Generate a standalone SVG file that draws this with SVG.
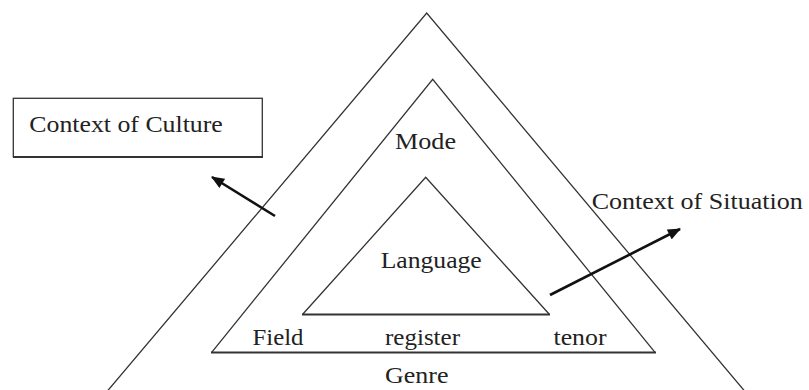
<svg xmlns="http://www.w3.org/2000/svg" width="809" height="390" viewBox="0 0 809 390">
<style>
.ln{fill:none;stroke:#333;stroke-width:1.3;stroke-linejoin:miter}
.base{stroke:#333;stroke-width:2.2;fill:none}
.t{font-family:"Liberation Serif","Times New Roman",serif;font-size:24px;fill:#222}
.arr{stroke:#111;stroke-width:2.6;fill:none;marker-end:url(#ah)}
</style>
<defs>
<marker id="ah" viewBox="0 0 12 10" refX="11" refY="5" markerWidth="14" markerHeight="11" markerUnits="userSpaceOnUse" orient="auto">
<path d="M0,0 L12,5 L0,10 z" fill="#111"/>
</marker>
</defs>
<rect width="809" height="390" fill="#fff"/>
<g id="outer-triangle">
<polyline class="ln" points="106.6,392 426.7,13 745.4,392"/>
</g>
<g id="middle-triangle">
<polyline class="ln" points="211.7,352.3 432.7,79.3 655,352.3"/>
<line class="base" x1="211" y1="352.5" x2="656" y2="352.5"/>
<text class="t" x="395" y="149" textLength="61" lengthAdjust="spacingAndGlyphs">Mode</text>
<text class="t" x="252.5" y="345" textLength="51" lengthAdjust="spacingAndGlyphs">Field</text>
<text class="t" x="385" y="345" textLength="75" lengthAdjust="spacingAndGlyphs">register</text>
<text class="t" x="553.5" y="345" textLength="53" lengthAdjust="spacingAndGlyphs">tenor</text>
<text class="t" x="385" y="383" textLength="63.5" lengthAdjust="spacingAndGlyphs">Genre</text>
</g>
<g id="inner-triangle">
<polyline class="ln" points="302.7,314.3 425.7,177.3 549.3,314.3"/>
<line class="base" x1="302" y1="314.5" x2="550" y2="314.5"/>
<text class="t" x="380.7" y="268" textLength="101" lengthAdjust="spacingAndGlyphs">Language</text>
</g>
<g id="context-of-culture">
<rect x="13.3" y="98.3" width="249" height="58.4" fill="#fff" stroke="#333" stroke-width="1.3"/>
<line class="base" x1="13" y1="157" x2="263" y2="157"/>
<text class="t" x="29.3" y="132" textLength="193.5" lengthAdjust="spacingAndGlyphs">Context of Culture</text>
</g>
<g id="context-of-situation">
<text class="t" x="591.7" y="209" textLength="211" lengthAdjust="spacingAndGlyphs">Context of Situation</text>
</g>
<g id="connectors">
<line class="arr" x1="275" y1="216" x2="212" y2="177"/>
<line class="arr" x1="550" y1="295" x2="680" y2="229"/>
</g>
</svg>
